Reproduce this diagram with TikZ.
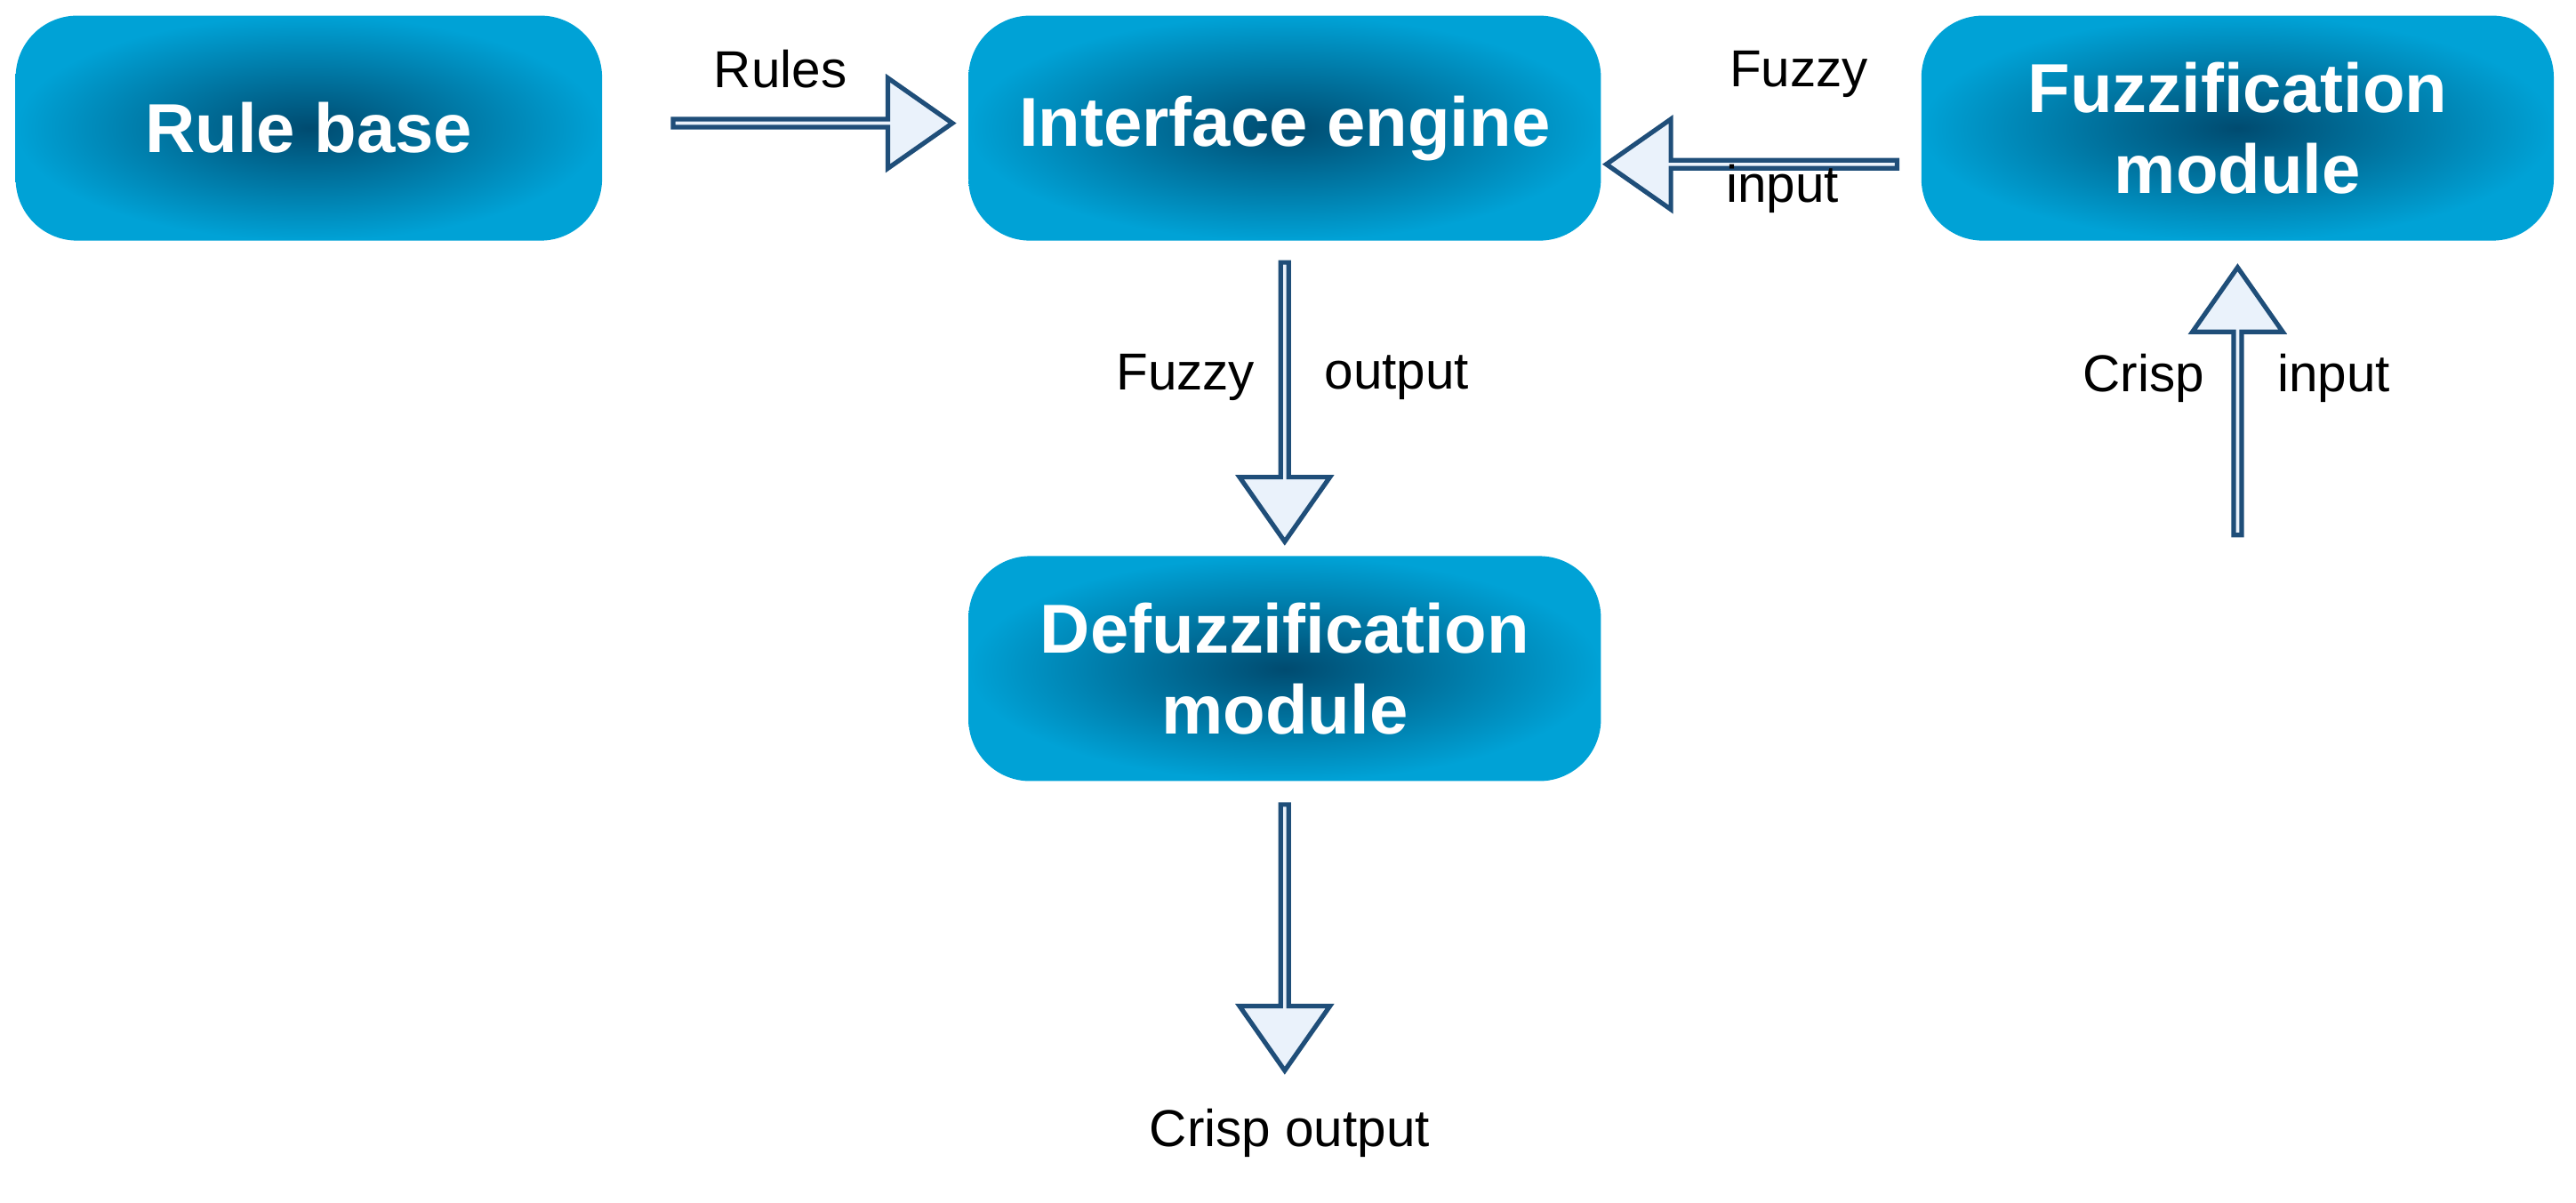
\documentclass[tikz,border=0pt]{standalone}
\usepackage{fontspec}
\setmainfont{Liberation Sans}
\usetikzlibrary{shapes.arrows}
\definecolor{boxdark}{HTML}{004B70}
\definecolor{boxlight}{HTML}{00A2D6}
\definecolor{arrowfill}{HTML}{EAF2FB}
\definecolor{arrowline}{HTML}{1F4E79}
\tikzset{
  module/.style={rounded corners=0.75cm, inner color=boxdark, outer color=boxlight,
    text=white, font=\fontsize{24}{28}\selectfont\bfseries, align=center,
    minimum width=7.7cm, minimum height=2.74cm},
  flow/.style={single arrow, draw=arrowline, line width=1.6pt, fill=arrowfill,
    minimum width=1.1cm, single arrow head extend=0.29cm, single arrow tip angle=70,
    inner sep=0pt},
  lbl/.style={font=\fontsize{18}{22}\selectfont, text=black}
}
\begin{document}
\begin{tikzpicture}[x=0.02cm, y=-0.02cm]
  \useasboundingbox (0,0) rectangle (1568,732);

  \node[module, minimum width=7.14cm] (rb) at (188, 78) {Rule base};
  \node[module] (ie) at (782, 78) {Interface engine};
  \node[module] (fm) at (1362, 78) {Fuzzification\\module};
  \node[module] (dm) at (782, 407) {Defuzzification\\module};

  \node[flow, minimum height=3.4cm] (rules) at (493, 75) {};
  \node[flow, minimum height=3.54cm, shape border rotate=180] (fin) at (1068, 100) {};
  \node[flow, minimum height=3.4cm, shape border rotate=270] (fout) at (782, 243) {};
  \node[flow, minimum height=3.26cm, shape border rotate=90] (cin) at (1362, 246) {};
  \node[flow, minimum height=3.24cm, shape border rotate=270] (cout) at (782, 569) {};

  \node[lbl] (lrules) at (475, 42) {Rules};
  \node[lbl] (lfuzzy1) at (1095, 45) {Fuzzy};
  \node[lbl] (linput1) at (1085, 115) {input};
  \node[lbl, anchor=east] (lfuzzy2) at (770, 230) {Fuzzy};
  \node[lbl, anchor=west] (loutput) at (800, 230) {output};
  \node[lbl, anchor=east] (lcrisp) at (1348, 230) {Crisp};
  \node[lbl, anchor=west] (linput2) at (1380, 230) {input};
  \node[lbl] (lcout) at (785, 690) {Crisp output};
\end{tikzpicture}
\end{document}
